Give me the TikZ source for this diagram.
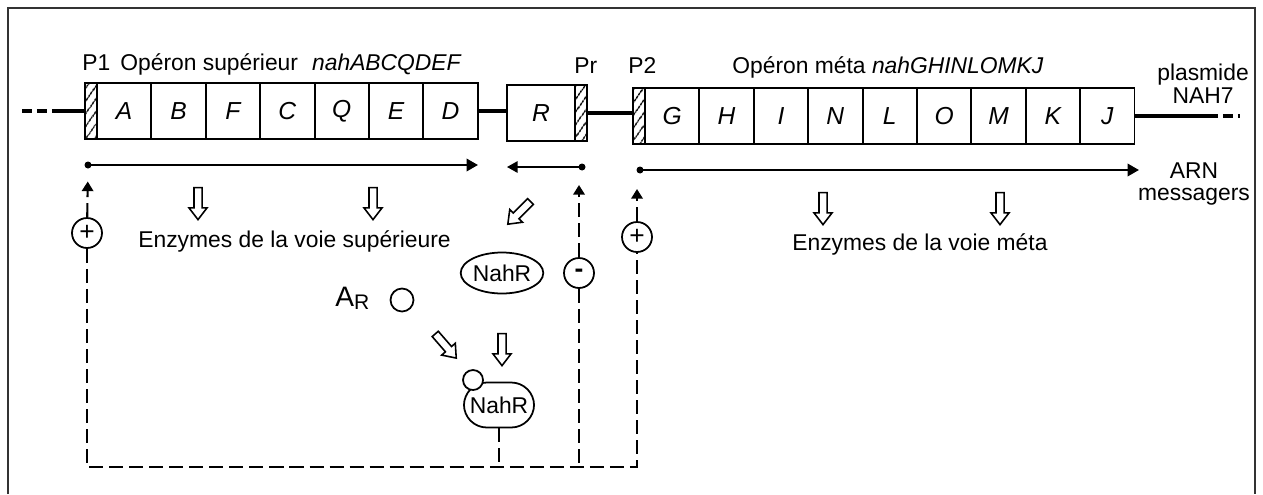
\documentclass[tikz,border=0pt]{standalone}
\usepackage{fontspec}
\setmainfont{Liberation Sans}
\usetikzlibrary{positioning,shapes.arrows,shapes.geometric,patterns.meta,arrows.meta}

\tikzset{
  lbl/.style={inner sep=0pt, font=\fontsize{13}{13}\selectfont},
  gene/.style={draw, line width=1.1pt, minimum width=1.088cm, minimum height=1.12cm,
    inner sep=0pt, outer sep=0pt, font=\fontsize{14}{14}\selectfont\itshape},
  prom/.style={draw, line width=1.1pt, minimum width=0.24cm, minimum height=1.12cm,
    inner sep=0pt, outer sep=0pt, pattern={Lines[angle=55,distance=4pt,line width=0.8pt]}},
  dna/.style={line width=2pt},
  mrna/.style={line width=1.4pt, -{Triangle[length=6.5pt,width=7pt]}},
  dot/.style={circle, fill, inner sep=0pt, minimum size=0.14cm},
  sign/.style={circle, draw, line width=1pt, inner sep=0pt, minimum size=0.6cm,
    font=\fontsize{15}{15}\selectfont},
  fb/.style={line width=1.2pt, dash pattern=on 8pt off 3.4pt},
  up/.style={-{Triangle[length=5.5pt,width=6.5pt]}},
  harrow/.style={single arrow, draw, line width=0.9pt, inner sep=0.065cm,
    single arrow head extend=0.1cm, single arrow tip angle=75, minimum height=0.64cm},
  lig/.style={circle, draw, line width=1pt, inner sep=0pt, fill=white},
}

\begin{document}
\begin{tikzpicture}[x=0.02cm, y=-0.02cm]
  \useasboundingbox (0,0) rectangle (1263,494);
  % cadre
  \draw[line width=0.9pt, black!80] (8,494) -- (8,8) -- (1255,8) -- (1255,494);

  % operon superieur
  \node[prom, anchor=north west] (p1) at (85,83) {};
  \node[gene, right=0pt of p1] (gA) {A};
  \node[gene, right=0pt of gA] (gB) {B};
  \node[gene, right=0pt of gB] (gF) {F};
  \node[gene, right=0pt of gF] (gC) {C};
  \node[gene, right=0pt of gC] (gQ) {Q};
  \node[gene, right=0pt of gQ] (gE) {E};
  \node[gene, right=0pt of gE] (gD) {D};
  \node[lbl, anchor=base west] (p1lab) at (82,70) {P1};
  \node[lbl, anchor=base west] (suplab) at (120,70) {Opéron supérieur\hspace{8pt}\textit{nahABCQDEF}};

  % gene regulateur
  \node[gene, minimum width=1.36cm, anchor=north west] (gR) at (507,85) {R};
  \node[prom, right=0pt of gR] (pr) {};
  \node[lbl, anchor=base west] (prlab) at (574,73) {Pr};

  % operon meta
  \node[prom, anchor=north west] (p2) at (633,88) {};
  \node[gene, right=0pt of p2] (gG) {G};
  \node[gene, right=0pt of gG] (gH) {H};
  \node[gene, right=0pt of gH] (gI) {I};
  \node[gene, right=0pt of gI] (gN) {N};
  \node[gene, right=0pt of gN] (gL) {L};
  \node[gene, right=0pt of gL] (gO) {O};
  \node[gene, right=0pt of gO] (gM) {M};
  \node[gene, right=0pt of gM] (gK) {K};
  \node[gene, right=0pt of gK] (gJ) {J};
  \node[lbl, anchor=base west] (p2lab) at (628,73) {P2};
  \node[lbl, anchor=base west] (metalab) at (732,73) {Opéron méta \textit{nahGHINLOMKJ}};
  \node[lbl, anchor=base] (plas) at (1203,80) {plasmide};
  \node[lbl, anchor=base] (nah7) at (1203,103) {NAH7};

  % ADN
  \coordinate (lend) at (22,111);
  \coordinate (lmid) at (57,111);
  \coordinate (rmid) at (1208,116);
  \coordinate (rend) at (1240,116);
  \draw[dna, dash pattern=on 5.5pt off 3pt] (lend) -- (lmid);
  \draw[dna] (lmid) -- (p1.west);
  \draw[dna] (gD.east) -- (gD.east -| gR.west);
  \draw[dna] (pr.east) -- (pr.east -| p2.west);
  \draw[dna] (gJ.east) -- (gJ.east -| rmid);
  \draw[dna, dash pattern=on 5.5pt off 3pt] (gJ.east -| rmid) -- (gJ.east -| rend);

  % ARN messagers
  \node[dot] (m1s) at (88,165) {};
  \coordinate (m1e) at (478,165);
  \draw[mrna] (m1s.center) -- (m1e);
  \node[dot] (mrs) at (582,167) {};
  \coordinate (mre) at (507,167);
  \draw[line width=0.8pt, -{Triangle[length=6pt,width=6.5pt]}] (mrs.center) -- (mre);
  \node[dot] (m2s) at (640,170) {};
  \coordinate (m2e) at (1139,170);
  \draw[mrna] (m2s.center) -- (m2e);
  \node[lbl, anchor=base] (arn) at (1194,178) {ARN};
  \node[lbl, anchor=base] (mess) at (1194,200) {messagers};

  % enzymes
  \node[harrow, rotate=-90] (e1) at (198,201) {};
  \node[harrow, rotate=-90] (e2) at (373,201) {};
  \node[harrow, rotate=-90] (e3) at (823,206) {};
  \node[harrow, rotate=-90] (e4) at (1000,206) {};
  \node[lbl, anchor=base west] (enzsup) at (138,247) {Enzymes de la voie supérieure};
  \node[lbl, anchor=base west] (enzmeta) at (792,250) {Enzymes de la voie méta};

  % regulateur NahR et inducteur
  \node[harrow, rotate=-135] (h3) at (521,211) {};
  \node[ellipse, draw, line width=1pt, inner sep=0pt, minimum width=1.38cm, minimum height=0.82cm,
    font=\fontsize{13}{13}\selectfont] (nahr) at (502,273) {NahR};
  \node[anchor=base west, inner sep=0pt] (ar) at (335,306)
    {\fontsize{16}{16}\selectfont A\fontsize{12}{12}\selectfont\raisebox{-2pt}{R}};
  \node[lig, minimum size=0.46cm] (ligf) at (402,300) {};
  \node[harrow, rotate=-49] (h2) at (444,344) {};
  \node[harrow, rotate=-90] (h1) at (502,347) {};
  \node[draw, line width=1pt, rounded corners=13pt, minimum width=1.36cm, minimum height=0.9cm,
    font=\fontsize{13}{13}\selectfont] (cplx) at (499,405) {NahR};
  \node[lig, minimum size=0.4cm] (ligb) at (473,380) {};

  % boucles de regulation
  \coordinate (base) at (87,467);
  \node[sign, fill=white] (plus1) at (87,233) {+};
  \node[sign, fill=white] (minus) at (579,273) {\textbf{-}};
  \node[sign, fill=white] (plus2) at (637,237) {+};
  \draw[fb] (plus1) -- (plus1 |- base) -- (plus2 |- base) -- (plus2);
  \draw[fb] (minus) -- (minus |- base);
  \draw[fb] (cplx) -- (cplx |- base);
  \draw[fb, up, shorten >=0.33cm] (plus1) -- (m1s.center);
  \draw[fb, up, shorten >=0.36cm] (minus) -- (minus |- mrs.center);
  \draw[fb, up, shorten >=0.38cm] (plus2) -- (plus2 |- m2s.center);
\end{tikzpicture}
\end{document}
